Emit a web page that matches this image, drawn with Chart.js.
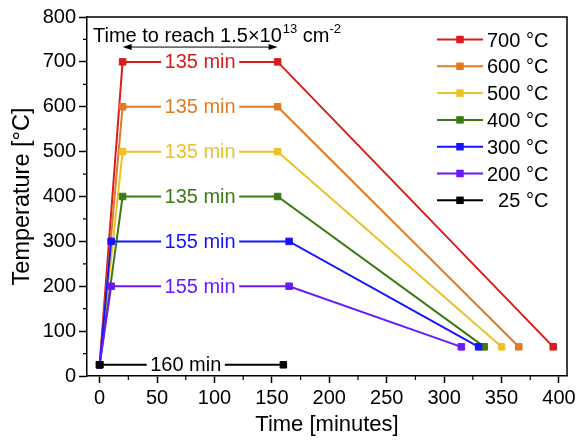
<!DOCTYPE html>
<html>
<head>
<meta charset="utf-8">
<script src="https://cdn.jsdelivr.net/npm/chart.js@4.4.1/dist/chart.umd.min.js"></script>
<style>
  html, body { margin: 0; padding: 0; background: #fff; }
  #wrap { width: 580px; height: 440px; }
</style>
</head>
<body>
<div id="wrap"><canvas id="profile" width="580" height="440"></canvas></div>
<script>
// Heating profiles: ramp up, hold, cool down (minutes vs. °C)
const setpoints = [700, 600, 500, 400, 300, 200, 25];
const colors = ['#d81c1c', '#e07a24', '#ebc12a', '#3c7a16', '#1515ff', '#6b18ff', '#000000'];
const times = [
  [0, 20, 155, 395],
  [0, 20, 155, 365],
  [0, 20, 155, 350],
  [0, 20, 155, 335],
  [0, 10, 165, 330],
  [0, 10, 165, 315],
  [0, 160]
];
const temps = [
  [25, 700, 700, 65],
  [25, 600, 600, 65],
  [25, 500, 500, 65],
  [25, 400, 400, 65],
  [25, 300, 300, 65],
  [25, 200, 200, 65],
  [25, 25]
];
const holdLabels = ['135 min', '135 min', '135 min', '135 min', '155 min', '155 min', '160 min'];
const holdLabelAt = [87.5, 87.5, 87.5, 87.5, 87.5, 87.5, 75];
const xTicks = [0, 50, 100, 150, 200, 250, 300, 350, 400];
const yTicks = [0, 100, 200, 300, 400, 500, 600, 700, 800];
const arrowSpan = [20, 155];
const arrowLevel = 733;

const family = '"Liberation Sans", Arial, sans-serif';

const datasets = setpoints.map((t, i) => ({
  label: t + ' °C',
  data: times[i].map((x, j) => ({ x: x, y: temps[i][j] })),
  borderColor: colors[i],
  backgroundColor: colors[i],
  borderWidth: 2,
  pointStyle: 'rect',
  pointRadius: 4.6,
  pointBorderWidth: 1,
  pointBackgroundColor: colors[i],
  pointBorderColor: colors[i],
  tension: 0,
  fill: false,
  // cooler profiles are drawn over the hotter ones
  order: -i
}));

// box frame + minor ticks
const framePlugin = {
  id: 'frame',
  afterDraw(chart) {
    const { ctx, chartArea: a } = chart;
    const xs = chart.scales.x, ys = chart.scales.y;
    ctx.save();
    ctx.strokeStyle = '#000';
    ctx.lineWidth = 1.5;
    ctx.beginPath();
    ctx.moveTo(a.left, a.top);
    ctx.lineTo(a.right, a.top);
    ctx.lineTo(a.right, a.bottom);
    ctx.stroke();
    ctx.lineWidth = 1.2;
    ctx.beginPath();
    xTicks.slice(1).forEach((v, k) => {
      const px = xs.getPixelForValue((v + xTicks[k]) / 2);
      ctx.moveTo(px, a.bottom);
      ctx.lineTo(px, a.bottom + 4);
    });
    yTicks.slice(1).forEach((v, k) => {
      const py = ys.getPixelForValue((v + yTicks[k]) / 2);
      ctx.moveTo(a.left, py);
      ctx.lineTo(a.left - 4, py);
    });
    ctx.stroke();
    ctx.restore();
  }
};

// hold-time labels sitting on the plateaus
const holdPlugin = {
  id: 'holdLabels',
  afterDatasetsDraw(chart) {
    const { ctx } = chart;
    const xs = chart.scales.x, ys = chart.scales.y;
    ctx.save();
    ctx.font = '20px ' + family;
    ctx.textAlign = 'center';
    ctx.textBaseline = 'middle';
    holdLabels.forEach((txt, i) => {
      const x = xs.getPixelForValue(holdLabelAt[i]);
      const y = ys.getPixelForValue(temps[i][1]);
      const w = ctx.measureText(txt).width + 7;
      ctx.fillStyle = '#fff';
      ctx.fillRect(x - w / 2, y - 4, w, 8);
      ctx.fillStyle = colors[i];
      ctx.fillText(txt, x, y + 1);
    });
    ctx.restore();
  }
};

// legend on the right and the fluence annotation at the top
const notesPlugin = {
  id: 'notes',
  afterDraw(chart) {
    const { ctx, chartArea: a } = chart;
    const xs = chart.scales.x, ys = chart.scales.y;
    ctx.save();
    ctx.font = '20px ' + family;
    ctx.textBaseline = 'middle';
    const numW = ctx.measureText('700').width;
    setpoints.forEach((t, i) => {
      const y = a.top + 22.5 + i * 26.8;
      const x0 = a.right - 130, x1 = a.right - 84;
      ctx.strokeStyle = colors[i];
      ctx.lineWidth = 2;
      ctx.beginPath();
      ctx.moveTo(x0, y);
      ctx.lineTo(x1, y);
      ctx.stroke();
      ctx.fillStyle = colors[i];
      ctx.fillRect((x0 + x1) / 2 - 3.75, y - 3.75, 7.5, 7.5);
      ctx.fillStyle = '#000';
      ctx.textAlign = 'right';
      ctx.fillText(String(t), x1 + 4 + numW, y + 1.5);
      ctx.textAlign = 'left';
      ctx.fillText(' °C', x1 + 4 + numW, y + 1.5);
    });

    // "Time to reach 1.5×10^13 cm^-2"
    ctx.textBaseline = 'alphabetic';
    ctx.textAlign = 'left';
    ctx.fillStyle = '#000';
    let tx = a.left + 6;
    const ty = a.top + 25;
    const main = 'Time to reach 1.5×10';
    ctx.fillText(main, tx, ty);
    tx += ctx.measureText(main).width;
    ctx.font = '13px ' + family;
    ctx.fillText('13', tx + 1, ty - 9);
    tx += ctx.measureText('13').width + 1;
    ctx.font = '20px ' + family;
    ctx.fillText(' cm', tx, ty);
    tx += ctx.measureText(' cm').width;
    ctx.font = '13px ' + family;
    ctx.fillText('-2', tx, ty - 9);

    // double-headed arrow
    const ax0 = xs.getPixelForValue(arrowSpan[0]);
    const ax1 = xs.getPixelForValue(arrowSpan[1]);
    const ay = ys.getPixelForValue(arrowLevel);
    ctx.strokeStyle = '#000';
    ctx.lineWidth = 1;
    ctx.beginPath();
    ctx.moveTo(ax0 + 6, ay);
    ctx.lineTo(ax1 - 6, ay);
    ctx.stroke();
    ctx.beginPath();
    ctx.moveTo(ax0, ay);
    ctx.lineTo(ax0 + 9, ay - 3);
    ctx.lineTo(ax0 + 9, ay + 3);
    ctx.closePath();
    ctx.moveTo(ax1, ay);
    ctx.lineTo(ax1 - 9, ay - 3);
    ctx.lineTo(ax1 - 9, ay + 3);
    ctx.closePath();
    ctx.fill();
    ctx.restore();
  }
};

new Chart(document.getElementById('profile'), {
  type: 'line',
  data: { datasets: datasets },
  options: {
    responsive: false,
    animation: false,
    devicePixelRatio: 1,
    layout: { padding: { top: 17, right: 13, left: 0, bottom: 0 } },
    plugins: {
      legend: { display: false },
      tooltip: { enabled: false }
    },
    scales: {
      x: {
        type: 'linear',
        min: -11,
        max: 407,
        afterBuildTicks: s => { s.ticks = xTicks.map(v => ({ value: v })); },
        afterFit: s => { s.height = 64; },
        grid: { drawOnChartArea: false, drawTicks: true, tickLength: 7, tickColor: '#000', tickWidth: 1.5 },
        border: { display: true, color: '#000', width: 1.5 },
        ticks: { color: '#000', font: { size: 20, family: family }, padding: 3, maxRotation: 0, autoSkip: false },
        title: { display: true, text: 'Time [minutes]', color: '#000', font: { size: 22, family: family }, padding: { top: 0, bottom: 2 } }
      },
      y: {
        min: 0,
        max: 800,
        afterBuildTicks: s => { s.ticks = yTicks.map(v => ({ value: v })); },
        afterFit: s => { s.width = 87; },
        grid: { drawOnChartArea: false, drawTicks: true, tickLength: 8, tickColor: '#000', tickWidth: 1.5 },
        border: { display: true, color: '#000', width: 1.5 },
        ticks: { color: '#000', font: { size: 20, family: family }, padding: 3, autoSkip: false },
        title: { display: true, text: 'Temperature [°C]', color: '#000', font: { size: 23.5, family: family }, padding: { top: 8, bottom: 0 } }
      }
    }
  },
  plugins: [framePlugin, holdPlugin, notesPlugin]
});
</script>
</body>
</html>
